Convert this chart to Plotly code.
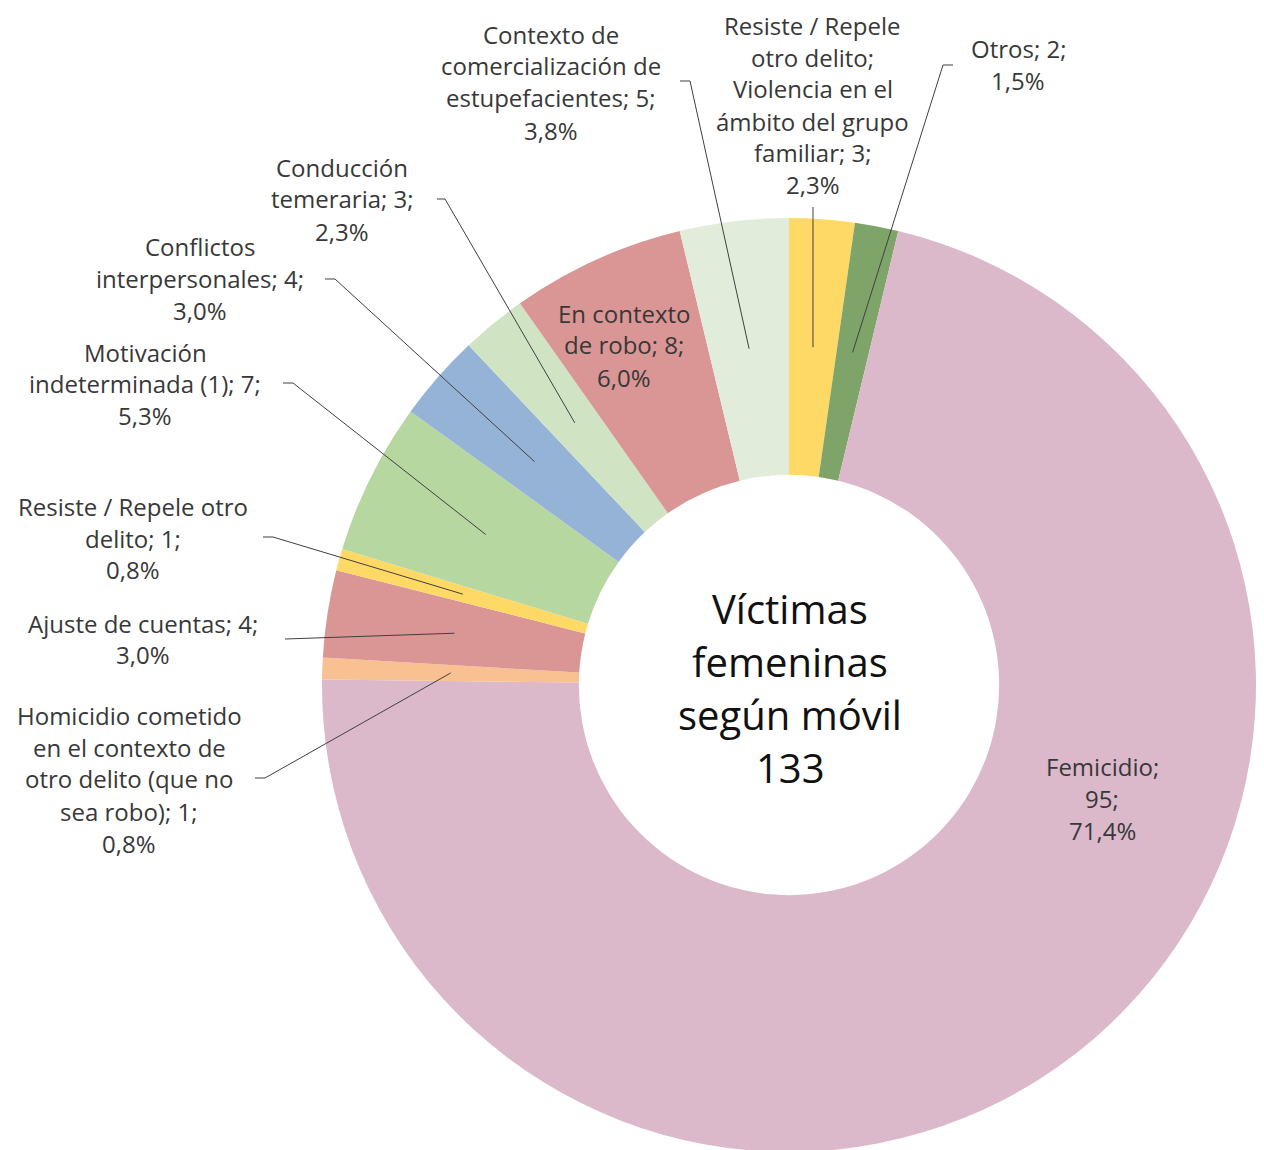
import math
import plotly.graph_objects as go

# ---------------- data ----------------
categories = [
    "Resiste / Repele otro delito; Violencia en el ámbito del grupo familiar",
    "Otros",
    "Femicidio",
    "Homicidio cometido en el contexto de otro delito (que no sea robo)",
    "Ajuste de cuentas",
    "Resiste / Repele otro delito",
    "Motivación indeterminada (1)",
    "Conflictos interpersonales",
    "Conducción temeraria",
    "En contexto de robo",
    "Contexto de comercialización de estupefacientes",
]
values = [3, 2, 95, 1, 4, 1, 7, 4, 3, 8, 5]
# wrapped label templates ({v} = value, {p} = percent)
label_fmt = [
    "Resiste / Repele<br>otro delito;<br>Violencia en el<br>ámbito del grupo<br>familiar; {v};<br>{p}",
    "Otros; {v};<br>{p}",
    "Femicidio;<br>{v};<br>{p}",
    "Homicidio cometido<br>en el contexto de<br>otro delito (que no<br>sea robo); {v};<br>{p}",
    "Ajuste de cuentas; {v};<br>{p}",
    "Resiste / Repele otro<br>delito; {v};<br>{p}",
    "Motivación<br>indeterminada (1); {v};<br>{p}",
    "Conflictos<br>interpersonales; {v};<br>{p}",
    "Conducción<br>temeraria; {v};<br>{p}",
    "En contexto<br>de robo; {v};<br>{p}",
    "Contexto de<br>comercialización de<br>estupefacientes; {v};<br>{p}",
]
center_title = "Víctimas<br>femeninas<br>según móvil"

# ---------------- styles / layout ----------------
colors = ["#FFD966", "#7FA46A", "#DBB9CB", "#F9C191", "#D99694", "#FFD966",
          "#B6D79F", "#95B3D7", "#D0E4C4", "#D99694", "#E1EDDA"]

W, H = 1264, 1150
OX, OY = 8, 8              # page offset of the plot div
CX, CY = 789, 685          # donut centre (page px)
R_OUT = 467
HOLE = 0.45
R_IN = R_OUT * HOLE
R_TIP = (R_OUT + R_IN) / 2

# label block centres (page px) and leader start/elbow points; None = no leader
label_pos = [(813, 105), (1018, 65), (1102, 798), (129, 779), (143, 639), (133, 538),
             (145, 384), (200, 278), (342, 199), (624, 345), (551, 82)]
leader = [
    [(813, 207)],
    [(953, 65), (943, 65)],
    None,
    [(255, 778), (265, 778)],
    [(285, 639)],
    [(263, 537), (273, 537)],
    [(283, 383), (293, 383)],
    [(325, 279), (335, 279)],
    [(437, 199), (445, 199)],
    None,
    [(680, 81), (690, 81)],
]

FONT = "Open Sans"
LABEL_SIZE = 24
LABEL_WEIGHT = 400
LABEL_LINE = 32
LABEL_COLOR = "#383838"
CENTER_SIZE = 40
CENTER_WEIGHT = 400
CENTER_LINE = 53


def px(x, y):
    return (x - OX) / W, 1 - (y - OY) / H


def text_block(text, x, y, size, line_h, color, weight):
    lines = text.split("<br>")
    n = len(lines)
    out = []
    for k, ln in enumerate(lines):
        ly = y + (k - (n - 1) / 2) * line_h
        qx, qy = px(x, ly)
        out.append(dict(x=qx, y=qy, xref="paper", yref="paper", text=ln,
                        showarrow=False, xanchor="center", yanchor="middle",
                        font=dict(family=FONT, size=size, color=color, weight=weight)))
    return out


total = sum(values)
fig = go.Figure()
fig.add_trace(go.Pie(
    labels=categories, values=values, sort=False, direction="clockwise",
    rotation=0, hole=HOLE, textinfo="none", hoverinfo="label+value+percent",
    marker=dict(colors=colors, line=dict(width=0)), showlegend=False,
    domain=dict(x=[(CX - R_OUT - OX) / W, min(1, (CX + R_OUT - OX) / W)],
                y=[max(0, 1 - (CY + R_OUT - OY) / H), 1 - (CY - R_OUT - OY) / H]),
))

annotations = []
shapes = []
cum = 0
for i, (cat, v) in enumerate(zip(categories, values)):
    mid = (cum + v / 2) / total * 2 * math.pi
    cum += v
    pct = f"{v / total * 100:.1f}".replace(".", ",") + "%"
    text = label_fmt[i].format(v=v, p=pct)
    annotations += text_block(text, *label_pos[i], LABEL_SIZE, LABEL_LINE,
                              LABEL_COLOR, LABEL_WEIGHT)
    if leader[i] is not None:
        tip = (CX + R_TIP * math.sin(mid), CY - R_TIP * math.cos(mid))
        pts = leader[i] + [tip]
        path = ""
        for j, p in enumerate(pts):
            qx, qy = px(*p)
            path += ("M" if j == 0 else " L") + f" {qx:.5f} {qy:.5f}"
        shapes.append(dict(type="path", path=path, xref="paper", yref="paper",
                           line=dict(color="#404040", width=1)))

annotations += text_block(f"{center_title}<br>{total}", 790, 688, CENTER_SIZE,
                          CENTER_LINE, "#111111", CENTER_WEIGHT)

fig.update_layout(width=W, height=H, margin=dict(l=0, r=0, t=0, b=0),
                  paper_bgcolor="white", plot_bgcolor="white",
                  annotations=annotations, shapes=shapes)
fig.write_html("out.html")
